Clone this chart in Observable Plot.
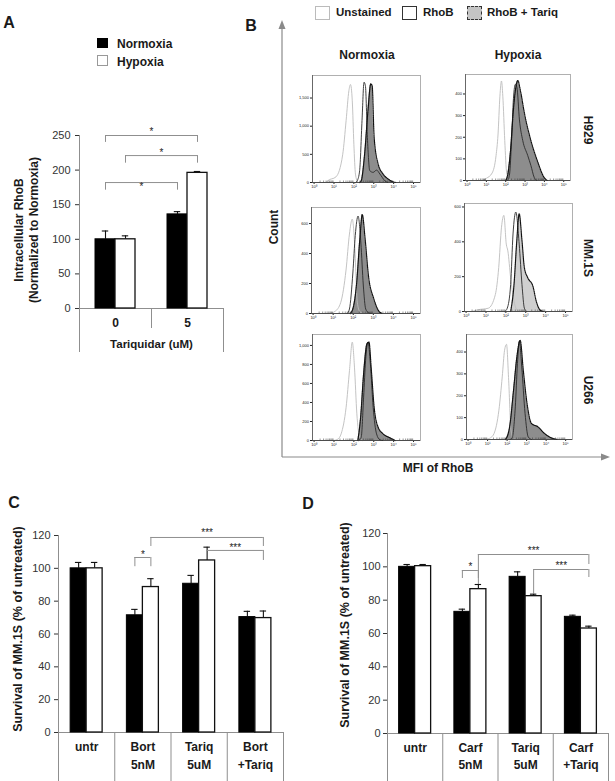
<!DOCTYPE html>
<html><head><meta charset="utf-8">
<script src="https://cdn.jsdelivr.net/npm/d3@7"></script>
<script src="https://cdn.jsdelivr.net/npm/@observablehq/plot@0.6"></script>
<style>
body{margin:0;background:#fff;}
#fig{position:relative;width:615px;height:781px;overflow:hidden;font-family:"Liberation Sans",Arial,sans-serif;color:#1a1a1a;background:#fff;}
.t{position:absolute;font-weight:bold;white-space:nowrap;line-height:1;}
.box{position:absolute;box-sizing:border-box;}
</style></head><body><div id="fig"></div>
<script>
// ---------------- Panel A data ----------------
const doseLabels = ["0", "5"];
const rhobNormoxia = [100, 136];
const rhobNormoxiaErrTop = [112, 140];
const rhobHypoxia = [100, 196];
const rhobHypoxiaErrTop = [105, 198];
const ticksA = [0, 50, 100, 150, 200, 250];
const sigA = [
  {a: 0, ag: "N", b: 1, bg: "H", level: 250, endA: 240, endB: 240, starY: 256, label: "*"},
  {a: 0, ag: "H", b: 1, bg: "H", level: 221, endA: 210, endB: 210, starY: 225, label: "*"},
  {a: 0, ag: "N", b: 1, bg: "N", level: 182, endA: 171, endB: 171, starY: 176, label: "*"}
];
// ---------------- Panel C data ----------------
const treatC1 = ["untr", "Bort", "Tariq", "Bort"];
const treatC2 = ["", "5nM", "5uM", "+Tariq"];
const survNormC = [100, 71.4, 90.6, 70.3];
const survNormErrC = [103.6, 75, 95.7, 73.8];
const survHypC = [100, 88.6, 104.8, 69.7];
const survHypErrC = [103.6, 93.7, 112.9, 74];
const sigC = [
  {a: 1, ag: "N", b: 1, bg: "H", level: 106.6, endA: 101, endB: 101, starY: 108.5, label: "*"},
  {a: 1, ag: "H", b: 3, bg: "H", level: 118.8, endA: 113.3, endB: 113.3, starY: 121.5, label: "***"},
  {a: 2, ag: "H", b: 3, bg: "H", level: 110.9, endA: null, endB: 104.8, starY: 112.6, label: "***"}
];
// ---------------- Panel D data ----------------
const treatD1 = ["untr", "Carf", "Tariq", "Carf"];
const treatD2 = ["", "5nM", "5uM", "+Tariq"];
const survNormD = [100, 73, 94, 70];
const survNormErrD = [101.4, 74.6, 97, 71];
const survHypD = [100.4, 86.6, 82.4, 63];
const survHypErrD = [101.4, 89.4, 83.6, 64.4];
const sigD = [
  {a: 1, ag: "N", b: 1, bg: "H", level: 97.8, endA: 93, endB: 93, starY: 99.9, label: "*"},
  {a: 1, ag: "H", b: 3, bg: "H", level: 107.4, endA: 89.4, endB: 101.4, starY: 109.5, label: "***"},
  {a: 2, ag: "H", b: 3, bg: "H", level: 98.4, endA: 84, endB: 93.6, starY: 100.5, label: "***"}
];
const survTicks = [0, 20, 40, 60, 80, 100, 120];

// ---------------- Panel B data: [log10 MFI, count] ----------------
const h929NormUnstained = [[0.6,0],[0.68,30],[1.1,100],[1.44,500],[1.61,1100],[1.75,1630],[1.83,1740],[1.92,1450],[2.0,680],[2.08,150],[2.2,0]];
const h929NormRhoB = [[2.1,0],[2.17,30],[2.29,210],[2.41,1100],[2.51,1780],[2.58,1720],[2.68,800],[2.8,210],[2.97,180],[3.14,220],[3.31,150],[3.56,30],[3.7,0]];
const h929NormTariq = [[2.3,0],[2.37,30],[2.54,500],[2.71,1280],[2.85,1750],[2.92,1720],[3.02,800],[3.22,330],[3.47,150],[3.73,60],[3.98,10],[4.1,0]];
const h929HypUnstained = [[0.8,0],[1.0,10],[1.3,35],[1.5,115],[1.6,210],[1.7,390],[1.78,460],[1.85,390],[1.95,185],[2.05,35],[2.2,0]];
const h929HypRhoB = [[2.1,0],[2.2,30],[2.3,180],[2.4,380],[2.5,445],[2.58,430],[2.71,280],[2.88,185],[3.14,115],[3.3,70],[3.47,15],[3.6,0]];
const h929HypTariq = [[2.0,0],[2.1,25],[2.25,140],[2.4,330],[2.54,440],[2.63,462],[2.75,420],[2.97,310],[3.3,185],[3.64,90],[3.98,15],[4.15,0]];
const mmNormUnstained = [[0.8,0],[1.1,15],[1.38,75],[1.64,290],[1.81,530],[1.95,630],[2.07,460],[2.2,75],[2.33,12],[2.5,0]];
const mmNormRhoB = [[1.7,0],[1.81,30],[1.98,270],[2.1,520],[2.24,650],[2.38,470],[2.5,190],[2.62,30],[2.76,5],[2.9,0]];
const mmNormTariq = [[1.85,0],[2.0,40],[2.16,190],[2.33,500],[2.45,660],[2.59,500],[2.76,250],[3.02,100],[3.28,15],[3.45,0]];
const mmHypUnstained = [[0.3,0],[0.6,10],[1.12,19],[1.47,97],[1.64,252],[1.78,484],[1.9,552],[2.02,387],[2.1,348],[2.24,194],[2.41,58],[2.59,4],[2.7,0]];
const mmHypRhoB = [[1.95,0],[2.07,19],[2.24,155],[2.36,445],[2.5,571],[2.67,387],[2.81,155],[2.93,19],[3.05,0]];
const mmHypTariq = [[2.24,0],[2.41,155],[2.55,407],[2.67,561],[2.81,407],[2.93,252],[3.1,194],[3.36,145],[3.53,58],[3.71,10],[3.88,0]];
const u266NormUnstained = [[1.0,0],[1.2,15],[1.36,70],[1.61,350],[1.78,737],[1.92,1035],[2.03,772],[2.15,281],[2.29,35],[2.42,0]];
const u266NormRhoB = [[2.25,0],[2.37,35],[2.49,456],[2.59,842],[2.71,1035],[2.83,807],[2.97,350],[3.14,70],[3.31,7],[3.45,0]];
const u266NormTariq = [[2.2,0],[2.34,245],[2.49,702],[2.66,1018],[2.76,1035],[2.88,737],[3.02,350],[3.22,140],[3.47,70],[3.81,28],[4.07,0]];
const u266HypUnstained = [[0.9,0],[1.15,8],[1.33,27],[1.58,134],[1.75,286],[1.87,408],[1.97,435],[2.08,271],[2.2,43],[2.33,3],[2.45,0]];
const u266HypRhoB = [[2.15,0],[2.25,5],[2.42,149],[2.53,347],[2.63,450],[2.75,332],[2.92,119],[3.08,12],[3.25,0]];
const u266HypTariq = [[1.92,0],[2.13,58],[2.33,225],[2.5,377],[2.67,453],[2.83,316],[3.0,179],[3.25,73],[3.58,58],[3.92,27],[4.33,5],[4.58,0]];
const histCountTicks = [[0,500,1000,1500],[0,100,200,300,400],[0,200,400,600],[0,200,400,600],[0,200,400,600,800,1000],[0,100,200,300,400]];
const histCountMax = [1900, 490, 707, 620, 1115, 480];
const decadeTicks = [0, 1, 2, 3, 4, 5];

// ---------------- helpers ----------------
const fig = document.getElementById("fig");
const FONT = '"Liberation Sans", Arial, sans-serif';
function place(node, left, top) {
  node.style.position = "absolute";
  node.style.left = left + "px";
  node.style.top = top + "px";
  fig.appendChild(node);
}
function txt(s, x, y, {size = 12, rot = 0, align = "center", weight = "bold", color = "#1a1a1a"} = {}) {
  const d = document.createElement("div");
  d.className = "t";
  d.textContent = s;
  d.style.fontSize = size + "px";
  d.style.fontWeight = weight;
  d.style.color = color;
  d.style.left = x + "px";
  d.style.top = y + "px";
  const tx = align === "center" ? "-50%" : align === "right" ? "-100%" : "0";
  d.style.transform = `translate(${tx},-50%) rotate(${rot}deg)`;
  fig.appendChild(d);
}
function box(x, y, w, h, css) {
  const d = document.createElement("div");
  d.className = "box";
  Object.assign(d.style, {left: x + "px", top: y + "px", width: w + "px", height: h + "px"}, css);
  fig.appendChild(d);
}

function barChart(cfg) {
  const {cats1, cats2, norm, normErr, hyp, hypErr, brackets, yDomain, yTicks,
    left, top, width, height, ml, mr, mt, mb, barPx, outerDepth, innerDepth,
    row1Dy, row2Dy, xTitle, xTitleDy, tickPadding} = cfg;
  const n = cats1.length;
  const bandPx = (width - ml - mr) / n;
  const w = barPx / bandPx;
  const plotH = height - mt - mb;
  const cap = 3.2 / bandPx;
  const pos = (i, g) => i + 0.5 + (g === "N" ? -w / 2 : w / 2);
  const rowsN = norm.map((v, i) => ({i, g: "N", v, e: normErr[i]}));
  const rowsH = hyp.map((v, i) => ({i, g: "H", v, e: hypErr[i]}));
  const rows = rowsN.concat(rowsH);
  const brH = brackets.map(b => ({x1: pos(b.a, b.ag), x2: pos(b.b, b.bg), y: b.level}));
  const brV = brackets.flatMap(b => [
    {x: pos(b.a, b.ag), y1: b.level, y2: b.endA},
    {x: pos(b.b, b.bg), y1: b.level, y2: b.endB}]).filter(d => d.y2 != null);
  const brT = brackets.map(b => ({x: (pos(b.a, b.ag) + pos(b.b, b.bg)) / 2, y: b.starY, t: b.label}));
  const gray = "#8f8f8f";
  const marks = [
    Plot.ruleX(d3.range(1, n), {x: d => d, insetTop: plotH, insetBottom: -innerDepth, stroke: gray}),
    Plot.ruleX([n], {x: d => d, insetTop: plotH, insetBottom: -outerDepth, stroke: gray}),
    Plot.ruleX([0], {x: d => d, insetBottom: -outerDepth, stroke: gray}),
    Plot.ruleY([0], {y: d => d, stroke: gray}),
    Plot.ruleX(rows, {x: d => pos(d.i, d.g), y1: "v", y2: "e", stroke: "#111", strokeWidth: 1.1}),
    Plot.ruleY(rows, {y: "e", x1: d => pos(d.i, d.g) - cap, x2: d => pos(d.i, d.g) + cap, stroke: "#111", strokeWidth: 1.1}),
    Plot.rect(rowsN, {x1: d => pos(d.i, d.g) - w / 2, x2: d => pos(d.i, d.g) + w / 2, y1: d => 0, y2: "v", fill: "#000", stroke: "#000", strokeWidth: 1}),
    Plot.rect(rowsH, {x1: d => pos(d.i, d.g) - w / 2, x2: d => pos(d.i, d.g) + w / 2, y1: d => 0, y2: "v", fill: "#fff", stroke: "#111", strokeWidth: 1.3}),
    Plot.ruleY(brH, {x1: "x1", x2: "x2", y: "y", stroke: gray}),
    Plot.ruleX(brV, {x: "x", y1: "y1", y2: "y2", stroke: gray}),
    Plot.text(brT, {x: "x", y: "y", text: "t", fontSize: 10, fill: "#222"}),
    Plot.text(d3.range(n), {x: i => i + 0.5, text: i => cats1[i], frameAnchor: "bottom", dy: row1Dy, lineAnchor: "middle", fontWeight: "bold", fontSize: 12, fill: "#1a1a1a"})
  ];
  if (cats2) marks.push(Plot.text(d3.range(n), {x: i => i + 0.5, text: i => cats2[i], frameAnchor: "bottom", dy: row2Dy, lineAnchor: "middle", fontWeight: "bold", fontSize: 12, fill: "#1a1a1a"}));
  if (xTitle) marks.push(Plot.text([xTitle], {x: () => n / 2, text: d => d, frameAnchor: "bottom", dy: xTitleDy, lineAnchor: "middle", fontWeight: "bold", fontSize: 11.5, fill: "#1a1a1a"}));
  const svg = Plot.plot({
    width, height, marginLeft: ml, marginRight: mr, marginTop: mt, marginBottom: mb,
    x: {domain: [0, n], axis: null},
    y: {domain: yDomain, ticks: yTicks, tickSize: 4, tickPadding, label: null},
    style: {fontFamily: FONT, fontSize: "11px", color: "#333", background: "transparent", overflow: "visible"},
    marks
  });
  place(svg, left, top);
}

const sup = ["\u2070", "\u00b9", "\u00b2", "\u00b3", "\u2074", "\u2075"];
function hist(cfg) {
  const {L, T, R, B, ymax, yTicks, unst, rhob, tariq, fill} = cfg;
  const ml = 14, mb = 9, mt = 1, mr = 1;
  const width = R - L + ml + mr, height = B - T + mt + mb;
  const plotH = B - T;
  const xDom = [-0.08, 5.35];
  const minor = decadeTicks.slice(0, 5).flatMap(d => d3.range(2, 10).map(k => d + Math.log10(k)));
  const X = d => d[0], Y = d => d[1];
  const svg = Plot.plot({
    width, height, marginLeft: ml, marginRight: mr, marginTop: mt, marginBottom: mb,
    x: {domain: xDom, ticks: decadeTicks, tickFormat: d => "10" + sup[d], tickSize: 2, tickPadding: 1, label: null},
    y: {domain: [0, ymax], ticks: yTicks, tickFormat: d3.format(","), tickSize: 2, tickPadding: 1.5, label: null},
    style: {fontFamily: FONT, fontSize: "4px", color: "#222", background: "transparent", overflow: "visible"},
    marks: [
      Plot.frame({stroke: "#b0b0b0"}),
      Plot.area(tariq, {x1: X, y1: d => 0, y2: Y, fill, curve: "monotone-x"}),
      Plot.line(unst, {x: X, y: Y, stroke: "#bcbcbc", strokeWidth: 0.9, curve: "monotone-x"}),
      Plot.line(rhob, {x: X, y: Y, stroke: "#2a2a2a", strokeWidth: 0.9, curve: "monotone-x"}),
      Plot.line(tariq, {x: X, y: Y, stroke: "#111", strokeWidth: 1.2, strokeDasharray: "1,0.8", curve: "monotone-x"}),
      Plot.ruleX(minor, {x: d => d, insetTop: plotH - 1.5, stroke: "#333", strokeWidth: 0.5}),
      Plot.ruleY([0], {y: d => d, stroke: "#333", strokeWidth: 0.8}),
      Plot.ruleX([xDom[0]], {x: d => d, stroke: "#555", strokeWidth: 0.8})
    ]
  });
  place(svg, L - ml, T - mt);
}

// ---------------- Panel A ----------------
txt("A", 9, 23, {size: 16});
box(97, 38, 11, 10, {background: "#000"});
box(97, 55, 11, 11, {background: "#fff", border: "1px solid #999"});
txt("Normoxia", 117, 44, {align: "left"});
txt("Hypoxia", 117, 62, {align: "left"});
txt("Intracellular RhoB", 19, 230, {rot: -90});
txt("(Normalized to Normoxia)", 34, 230, {rot: -90});
barChart({cats1: doseLabels, cats2: null, norm: rhobNormoxia, normErr: rhobNormoxiaErrTop,
  hyp: rhobHypoxia, hypErr: rhobHypoxiaErrTop, brackets: sigA, yDomain: [0, 250], yTicks: ticksA,
  left: 0, top: 100, width: 240, height: 260, ml: 79, mr: 17, mt: 35, mb: 52, barPx: 20,
  outerDepth: 44, innerDepth: 20, row1Dy: 15, xTitle: "Tariquidar (uM)", xTitleDy: 36, tickPadding: 5});

// ---------------- Panel B ----------------
txt("B", 251, 26, {size: 16});
box(315, 6, 15, 14, {background: "#fff", border: "1px solid #bbb"});
txt("Unstained", 336, 13, {align: "left", size: 11.5});
box(402, 6, 15, 14, {background: "#fff", border: "1.5px solid #333"});
txt("RhoB", 423, 13, {align: "left", size: 11.5});
box(467, 6, 15, 14, {background: "#c4c4c4", border: "1.3px dashed #333"});
txt("RhoB + Tariq", 487, 13, {align: "left", size: 11.5});
txt("Normoxia", 367, 55);
txt("Hypoxia", 518, 55);
txt("H929", 588, 130, {rot: 90});
txt("MM.1S", 588, 258, {rot: 90});
txt("U266", 588, 390, {rot: 90});
txt("Count", 274, 227, {rot: -90});
txt("MFI of RhoB", 438, 468);
{
  const ns = "http://www.w3.org/2000/svg";
  const s = document.createElementNS(ns, "svg");
  s.setAttribute("width", 615); s.setAttribute("height", 781);
  s.style.position = "absolute"; s.style.left = "0"; s.style.top = "0"; s.style.pointerEvents = "none";
  s.innerHTML = '<g stroke="#8a8a8a" stroke-width="1.2" fill="#8a8a8a">' +
    '<line x1="282" y1="457" x2="282" y2="28"/><polygon stroke="none" points="282,20 278.5,29 285.5,29"/>' +
    '<line x1="282" y1="457" x2="602" y2="457"/><polygon stroke="none" points="610,457 601,453.5 601,460.5"/></g>';
  fig.appendChild(s);
}
const histPanels = [
  {L: 312, T: 75, R: 420, B: 182, unst: h929NormUnstained, rhob: h929NormRhoB, tariq: h929NormTariq, fill: "#8d8d8d"},
  {L: 465, T: 74, R: 570, B: 180, unst: h929HypUnstained, rhob: h929HypRhoB, tariq: h929HypTariq, fill: "#8d8d8d"},
  {L: 311, T: 207, R: 420, B: 313, unst: mmNormUnstained, rhob: mmNormRhoB, tariq: mmNormTariq, fill: "#8d8d8d"},
  {L: 464, T: 203, R: 572, B: 311, unst: mmHypUnstained, rhob: mmHypRhoB, tariq: mmHypTariq, fill: "#cfcfcf"},
  {L: 312, T: 334, R: 420, B: 440, unst: u266NormUnstained, rhob: u266NormRhoB, tariq: u266NormTariq, fill: "#8d8d8d"},
  {L: 466, T: 334, R: 572, B: 439, unst: u266HypUnstained, rhob: u266HypRhoB, tariq: u266HypTariq, fill: "#8d8d8d"}
];
histPanels.forEach((p, k) => hist({...p, ymax: histCountMax[k], yTicks: histCountTicks[k]}));

// ---------------- Panel C ----------------
txt("C", 14, 503, {size: 16});
txt("Survival of MM.1S (% of untreated)", 18, 629, {rot: -90, size: 12.5});
barChart({cats1: treatC1, cats2: treatC2, norm: survNormC, normErr: survNormErrC,
  hyp: survHypC, hypErr: survHypErrC, brackets: sigC, yDomain: [0, 120], yTicks: survTicks,
  left: 0, top: 520, width: 300, height: 261, ml: 58, mr: 17, mt: 15, mb: 49, barPx: 16,
  outerDepth: 49, innerDepth: 49, row1Dy: 15, row2Dy: 33, tickPadding: 4});

// ---------------- Panel D ----------------
txt("D", 308, 504, {size: 16});
txt("Survival of MM.1S (% of untreated)", 345, 625, {rot: -90, size: 12.5});
barChart({cats1: treatD1, cats2: treatD2, norm: survNormD, normErr: survNormErrD,
  hyp: survHypD, hypErr: survHypErrD, brackets: sigD, yDomain: [0, 120], yTicks: survTicks,
  left: 300, top: 520, width: 315, height: 261, ml: 87, mr: 7, mt: 13, mb: 48, barPx: 16,
  outerDepth: 48, innerDepth: 48, row1Dy: 15, row2Dy: 32, tickPadding: 3});
</script>
</body></html>
